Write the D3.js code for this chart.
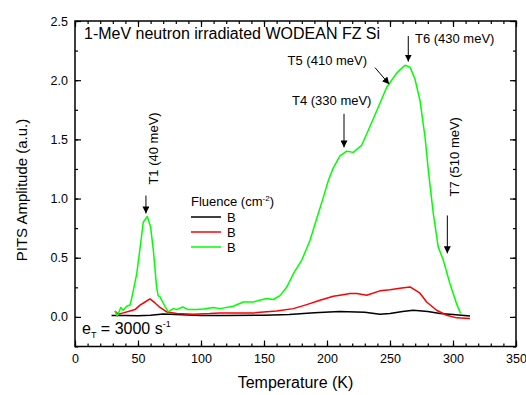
<!DOCTYPE html>
<html lang="en">
<head>
<meta charset="UTF-8">
<title>PITS</title>
<style>
  body { margin: 0; background: #fff; }
  text { font-family: "Liberation Sans", Arial, sans-serif; fill: #000; }
</style>
</head>
<body>
<div id="chart"></div>
<script src="https://cdnjs.cloudflare.com/ajax/libs/d3/7.8.5/d3.min.js"></script>
<script>
// temperature (K) and amplitude (a.u.) for each fluence
let greenT = [31.7, 33.6, 36.3, 38.3, 41, 43.7, 45.8, 49, 52.1, 54.2, 57.4, 60, 62.2, 64.8, 66, 67.5, 71.4, 74, 78, 80.7, 85.5, 90, 96.6, 101.8, 109.8, 115, 125.6, 133.6, 141.5, 152, 157.4, 162.7, 168, 173.3, 179.9, 186.5, 191.8, 197.1, 201, 205, 210.3, 215.6, 220.9, 227.5, 231.5, 239.4, 247.4, 255.3, 261.9, 265.9, 269.8, 273.8, 277.8, 280.4, 284.4, 288.3, 292.3, 297.6, 302.9, 306];
let greenA = [0.05, 0.005, 0.08, 0.056, 0.09, 0.10, 0.197, 0.365, 0.62, 0.80, 0.848, 0.76, 0.56, 0.25, 0.18, 0.17, 0.09, 0.042, 0.07, 0.062, 0.084, 0.062, 0.062, 0.067, 0.08, 0.07, 0.09, 0.126, 0.126, 0.155, 0.147, 0.18, 0.25, 0.365, 0.478, 0.646, 0.83, 1.01, 1.15, 1.26, 1.36, 1.40, 1.39, 1.45, 1.545, 1.74, 1.94, 2.06, 2.126, 2.11, 2.01, 1.83, 1.52, 1.24, 0.87, 0.59, 0.48, 0.28, 0.11, 0.03];

let redT = [31.7, 34.4, 38.3, 43.7, 47.6, 51.6, 55.6, 59.5, 63.5, 67.5, 72.8, 80.7, 93.9, 107, 115, 141.5, 160, 173.3, 183.9, 194.4, 205, 210.3, 218.3, 223.6, 231.5, 242, 250, 257.9, 265.9, 273.8, 279.1, 287, 295, 303, 313.5];
let redA = [0.05, 0.023, 0.034, 0.05, 0.062, 0.10, 0.126, 0.152, 0.118, 0.08, 0.042, 0.028, 0.023, 0.028, 0.034, 0.034, 0.05, 0.07, 0.104, 0.14, 0.174, 0.183, 0.197, 0.197, 0.183, 0.22, 0.23, 0.242, 0.253, 0.2, 0.126, 0.056, 0.014, -0.008, -0.013];

let blackT = [29, 40, 50, 60, 70, 80, 100, 120, 150, 170, 190, 210, 230, 242, 250, 260, 268.5, 280, 289.7, 300, 313.5];
let blackA = [0.012, 0.012, 0.01, 0.015, 0.025, 0.02, 0.012, 0.012, 0.015, 0.02, 0.035, 0.045, 0.04, 0.023, 0.028, 0.045, 0.056, 0.045, 0.028, 0.02, 0.008];

let seriesNames = ['B', 'B', 'B'];
let seriesColors = ['#000000', '#ff0000', '#00ff00'];

let xTicks = [0, 50, 100, 150, 200, 250, 300, 350];
let yTicks = [0.0, 0.5, 1.0, 1.5, 2.0, 2.5];

// arrows: [T from, A from, T to, A to]
let arrows = [
  [56.3, 1.025, 56.3, 0.874],
  [213.5, 1.716, 213.5, 1.432],
  [238.1, 2.106, 249.4, 1.966],
  [264.5, 2.373, 264.5, 2.157],
  [295.5, 0.857, 295.5, 0.537]
];
// labels: [text, T, A, rotated]
let labels = [
  ['T1 (40 meV)', 65.9, 1.118, true],
  ['T4 (330 meV)', 172.2, 1.792, false],
  ['T5 (410 meV)', 168.7, 2.129, false],
  ['T6 (430 meV)', 269.8, 2.314, false],
  ['T7 (510 meV)', 304.8, 1.017, true]
];

let width = 526, height = 395;
let margin = { top: 21, right: 10, bottom: 48.5, left: 75 };

let xScale = d3.scaleLinear().domain([0, 350]).range([margin.left, width - margin.right]);
let yScale = d3.scaleLinear().domain([-0.25, 2.5]).range([height - margin.bottom, margin.top]);

let svg = d3.select('#chart').append('svg')
  .attr('width', width)
  .attr('height', height);

let defs = svg.append('defs');
defs.append('marker')
  .attr('id', 'head')
  .attr('viewBox', '0 0 10 10')
  .attr('refX', 10).attr('refY', 5)
  .attr('markerWidth', 7).attr('markerHeight', 7)
  .attr('markerUnits', 'userSpaceOnUse')
  .attr('orient', 'auto')
  .append('path').attr('d', 'M0,0 L10,5 L0,10 z').attr('fill', '#000');

// axes, ticks pointing inward
let x0 = margin.left, x1 = width - margin.right;
let y0 = height - margin.bottom, y1 = margin.top;

function styleAxis(g) {
  g.select('.domain').remove();
  g.selectAll('line').attr('stroke', '#000').attr('stroke-width', 1.2);
  g.selectAll('text').style('font-size', '12.5px').style('font-family', '"Liberation Sans", Arial, sans-serif');
}

let xMinor = d3.range(0, 351, 10);
let yMinor = d3.range(-0.25, 2.51, 0.25);

svg.append('g').attr('transform', 'translate(0,' + y0 + ')')
  .call(d3.axisBottom(xScale).tickValues(xMinor).tickSize(-3).tickFormat(''))
  .call(styleAxis);
svg.append('g').attr('transform', 'translate(0,' + y0 + ')')
  .call(d3.axisBottom(xScale).tickValues(xTicks).tickSize(-6).tickPadding(8).tickFormat(d3.format('d')))
  .call(styleAxis);
svg.append('g').attr('transform', 'translate(0,' + y1 + ')')
  .call(d3.axisTop(xScale).tickValues(xMinor).tickSize(-3).tickFormat(''))
  .call(styleAxis);
svg.append('g').attr('transform', 'translate(0,' + y1 + ')')
  .call(d3.axisTop(xScale).tickValues(xTicks).tickSize(-6).tickFormat(''))
  .call(styleAxis);

svg.append('g').attr('transform', 'translate(' + x0 + ',0)')
  .call(d3.axisLeft(yScale).tickValues(yMinor).tickSize(-3).tickFormat(''))
  .call(styleAxis);
svg.append('g').attr('transform', 'translate(' + x0 + ',0)')
  .call(d3.axisLeft(yScale).tickValues(yTicks).tickSize(-6).tickPadding(7).tickFormat(d3.format('.1f')))
  .call(styleAxis);
svg.append('g').attr('transform', 'translate(' + x1 + ',0)')
  .call(d3.axisRight(yScale).tickValues(yMinor).tickSize(-3).tickFormat(''))
  .call(styleAxis);
svg.append('g').attr('transform', 'translate(' + x1 + ',0)')
  .call(d3.axisRight(yScale).tickValues(yTicks).tickSize(-6).tickFormat(''))
  .call(styleAxis);

// frame
svg.append('rect')
  .attr('x', x0).attr('y', y1)
  .attr('width', x1 - x0).attr('height', y0 - y1)
  .attr('fill', 'none').attr('stroke', '#000').attr('stroke-width', 1.5);

// curves
let line = d3.line().x(d => xScale(d[0])).y(d => yScale(d[1]));
let series = [
  d3.zip(blackT, blackA),
  d3.zip(redT, redA),
  d3.zip(greenT, greenA)
];
series.forEach((s, i) => {
  svg.append('path')
    .datum(s)
    .attr('d', line)
    .attr('fill', 'none')
    .attr('stroke', seriesColors[i])
    .attr('stroke-width', 1.5)
    .attr('stroke-linejoin', 'round');
});

// arrows and labels
svg.selectAll('.arrow')
  .data(arrows)
  .enter().append('line')
  .attr('class', 'arrow')
  .attr('x1', d => xScale(d[0])).attr('y1', d => yScale(d[1]))
  .attr('x2', d => xScale(d[2])).attr('y2', d => yScale(d[3]))
  .attr('stroke', '#000').attr('stroke-width', 1)
  .attr('marker-end', 'url(#head)');

labels.forEach(d => {
  svg.append('text')
    .attr('transform', 'translate(' + xScale(d[1]) + ',' + yScale(d[2]) + ')' + (d[3] ? ' rotate(-90)' : ''))
    .style('font-size', '13px')
    .text(d[0]);
});

// title
svg.append('text')
  .attr('x', 84).attr('y', 39)
  .style('font-size', '16px')
  .text('1-MeV neutron irradiated WODEAN FZ Si');

// emission rate
let et = svg.append('text').attr('x', 82).attr('y', 334).style('font-size', '16px');
et.append('tspan').text('e');
et.append('tspan').attr('dy', 4).style('font-size', '9px').text('T');
et.append('tspan').attr('dy', -4).text(' = 3000 s');
et.append('tspan').attr('dy', -7).style('font-size', '9px').text('-1');

// legend
let lg = svg.append('g').attr('transform', 'translate(191,206)');
let lt = lg.append('text').attr('x', 0).attr('y', 0).style('font-size', '13px');
lt.append('tspan').text('Fluence (cm');
lt.append('tspan').attr('dy', -5).style('font-size', '8px').text('-2');
lt.append('tspan').attr('dy', 5).text(')');
seriesNames.forEach((name, i) => {
  let yy = 11 + i * 15;
  lg.append('line')
    .attr('x1', 0).attr('x2', 30)
    .attr('y1', yy).attr('y2', yy)
    .attr('stroke', seriesColors[i]).attr('stroke-width', 1.5);
  lg.append('text')
    .attr('x', 36).attr('y', yy + 5)
    .style('font-size', '13px')
    .text(name);
});

// axis titles
svg.append('text')
  .attr('x', (x0 + x1) / 2).attr('y', 388)
  .attr('text-anchor', 'middle')
  .style('font-size', '16px')
  .text('Temperature (K)');
svg.append('text')
  .attr('transform', 'translate(27,190) rotate(-90)')
  .attr('text-anchor', 'middle')
  .style('font-size', '15px')
  .text('PITS Amplitude (a.u.)');
</script>
</body>
</html>
